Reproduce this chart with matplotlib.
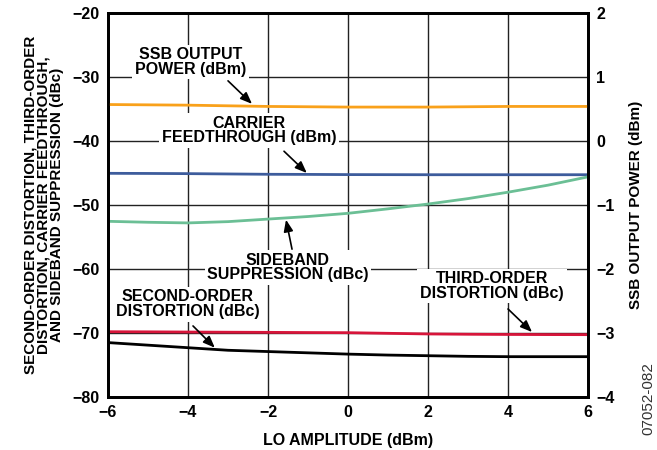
import matplotlib
matplotlib.use('Agg')
import matplotlib.pyplot as plt

plt.rcParams['font.family'] = ['Liberation Sans', 'DejaVu Sans']
plt.rcParams['font.weight'] = 'bold'

# LO amplitude (dBm)
lo_amp = [-6, -5, -4, -3, -2, -1, 0, 1, 2, 3, 4, 5, 6]

# left axis series (dBc / dBm)
carrier_ft = [-45.05, -45.07, -45.1, -45.15, -45.2, -45.22, -45.25, -45.26, -45.27, -45.27, -45.27, -45.27, -45.27]
sideband_sup = [-52.55, -52.7, -52.8, -52.6, -52.2, -51.8, -51.3, -50.6, -49.85, -49.0, -48.0, -46.9, -45.6]
third_order = [-69.8, -69.82, -69.85, -69.88, -69.9, -69.93, -69.95, -70.05, -70.15, -70.2, -70.23, -70.25, -70.26]
second_order = [-71.5, -71.9, -72.3, -72.7, -72.9, -73.1, -73.3, -73.45, -73.55, -73.65, -73.7, -73.7, -73.7]

# right axis series (dBm)
ssb_power = [0.57, 0.565, 0.56, 0.55, 0.54, 0.535, 0.53, 0.53, 0.53, 0.535, 0.54, 0.54, 0.54]

fig = plt.figure(figsize=(6.57, 4.5), dpi=100)
ax = fig.add_axes([0.1644, 0.1178, 0.7306, 0.8533])
ax2 = ax.twinx()

ax.plot(lo_amp, carrier_ft, color='#3d5c9c', lw=2)
ax.plot(lo_amp, sideband_sup, color='#6bbf95', lw=2)
ax.plot(lo_amp, third_order, color='#d7153a', lw=2)
ax.plot(lo_amp, second_order, color='black', lw=2)
ax2.plot(lo_amp, ssb_power, color='#f9a11b', lw=2)

ax.set_xlim(-6, 6)
ax.set_ylim(-80, -20)
ax2.set_ylim(-4, 2)
ax.set_xticks(range(-6, 7, 2))
ax.set_yticks(range(-80, -19, 10))
ax2.set_yticks(range(-4, 3))

ax.grid(True, color='#222222', lw=1)
ax.tick_params(length=0, labelsize=11.5, pad=6)
ax2.tick_params(length=0, labelsize=11.5, pad=6)
for a in (ax, ax2):
    for s in a.spines.values():
        s.set_linewidth(2)

ax.set_xlabel('LO AMPLITUDE (dBm)', fontsize=11.5, fontweight='bold', labelpad=9)
ax.set_ylabel('SECOND-ORDER DISTORTION, THIRD-ORDER\nDISTORTION, CARRIER FEEDTHROUGH,\nAND SIDEBAND SUPPRESSION (dBc)',
              fontsize=11, fontweight='bold', linespacing=0.95, labelpad=6, multialignment='center')
ax2.set_ylabel('SSB OUTPUT POWER (dBm)', fontsize=11, fontweight='bold', labelpad=10)

box = dict(facecolor='white', edgecolor='none', pad=2)
labels = [
    ('SSB OUTPUT\nPOWER (dBm)', -3.93, -27.66, (-3.0, -30.6), (-2.4, -34.2)),
    ('CARRIER\nFEEDTHROUGH (dBm)', -2.48, -38.4, (-1.6, -41.6), (-1.03, -45.0)),
    ('SIDEBAND\nSUPPRESSION (dBc)', -1.5, -59.8, (-1.4, -56.9), (-1.55, -52.3)),
    ('THIRD-ORDER\nDISTORTION (dBc)', 3.6, -62.65, (4.0, -66.25), (4.6, -69.85)),
    ('SECOND-ORDER\nDISTORTION (dBc)', -4.0, -65.5, (-3.875, -68.9), (-3.33, -72.3)),
]
for txt, tx, ty, start, end in labels:
    ax.text(tx, ty, txt, ha='center', va='center', fontsize=11.5, fontweight='bold',
            linespacing=0.95, bbox=box, zorder=5)
    ax.annotate('', xy=end, xytext=start,
                arrowprops=dict(arrowstyle='-|>,head_length=0.7,head_width=0.28',
                                color='black', lw=1.2, shrinkA=0, shrinkB=0), zorder=6)

fig.text(648 / 657, 1 - 362 / 450, '07052-082', rotation=90, fontsize=11, fontweight='normal',
         ha='center', va='top', color='#333333')

fig.savefig('out.png', dpi=100)
